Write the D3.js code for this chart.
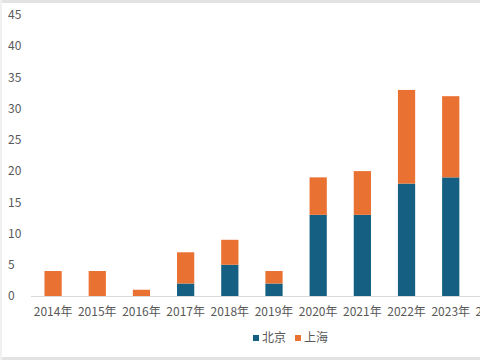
<!DOCTYPE html>
<html>
<head>
<meta charset="utf-8">
<script src="https://cdn.jsdelivr.net/npm/d3@7"></script>
<style>
  body { margin: 0; background: #fff; }
  svg text { font-family: "Noto Sans CJK SC", "Noto Sans", sans-serif; fill: #595959; }
</style>
</head>
<body>
<div id="chart"></div>
<script>
// data
var years = ["2014年", "2015年", "2016年", "2017年", "2018年", "2019年", "2020年", "2021年", "2022年", "2023年", "2024年"];
var beijing = [0, 0, 0, 2, 5, 2, 13, 13, 18, 19, 0];
var shanghai = [4, 4, 1, 5, 4, 2, 6, 7, 15, 13, 0];
var seriesNames = ["北京", "上海"];
var colors = ["#156082", "#E97132"];
var yTicks = [0, 5, 10, 15, 20, 25, 30, 35, 40, 45];

var W = 480, H = 360;
var svg = d3.select("#chart").append("svg")
    .attr("width", W).attr("height", H);

// light frame like the screenshot
svg.append("rect").attr("x", 0).attr("y", 0).attr("width", W).attr("height", 3).attr("fill", "#e3e3e3");
svg.append("rect").attr("x", 0).attr("y", 357).attr("width", W).attr("height", 3).attr("fill", "#e3e3e3");
svg.append("rect").attr("x", 0).attr("y", 0).attr("width", 2).attr("height", H).attr("fill", "#f0f0f0");

var plotLeft = 31, plotRight = 517, plotTop = 15, plotBottom = 296;

var x = d3.scaleBand().domain(years).range([plotLeft, plotRight]).paddingInner(0.61).paddingOuter(0.305);
var y = d3.scaleLinear().domain([0, 45]).range([plotBottom, plotTop]);

var rows = years.map(function(yr, i) { return {year: yr, "北京": beijing[i], "上海": shanghai[i]}; });
var stacked = d3.stack().keys(seriesNames)(rows);

var plot = svg.append("g");

plot.selectAll("g.series").data(stacked)
    .enter().append("g")
    .attr("class", "series")
    .attr("fill", function(d, i) { return colors[i]; })
  .selectAll("rect").data(function(d) { return d; })
    .enter().append("rect")
    .attr("x", function(d) { return x(d.data.year); })
    .attr("width", x.bandwidth())
    .attr("y", function(d) { return y(d[1]); })
    .attr("height", function(d) { return y(d[0]) - y(d[1]); });

// x axis line
plot.append("line")
    .attr("x1", plotLeft).attr("x2", plotRight)
    .attr("y1", plotBottom + 0.5).attr("y2", plotBottom + 0.5)
    .attr("stroke", "#d9d9d9").attr("stroke-width", 1);

// y tick labels
svg.selectAll("text.ytick").data(yTicks)
    .enter().append("text")
    .attr("class", "ytick")
    .attr("x", 8)
    .attr("y", function(d) { return y(d); })
    .attr("dy", "0.35em")
    .style("font-size", "12px")
    .text(function(d) { return d; });

// x tick labels
svg.selectAll("text.xtick").data(years)
    .enter().append("text")
    .attr("class", "xtick")
    .attr("x", function(d) { return x(d) + x.bandwidth() / 2; })
    .attr("y", 312)
    .attr("dy", "0.35em")
    .attr("text-anchor", "middle")
    .style("font-size", "12px")
    .text(function(d) { return d; });

// legend
var legend = svg.append("g").attr("transform", "translate(253,338)");
var legendX = [0, 42];
seriesNames.forEach(function(name, i) {
    var g = legend.append("g").attr("transform", "translate(" + legendX[i] + ",0)");
    g.append("rect").attr("x", 0).attr("y", -3).attr("width", 6).attr("height", 6).attr("fill", colors[i]);
    g.append("text").attr("x", 9).attr("dy", "0.35em")
        .style("font-size", "12px").text(name);
});
</script>
</body>
</html>
